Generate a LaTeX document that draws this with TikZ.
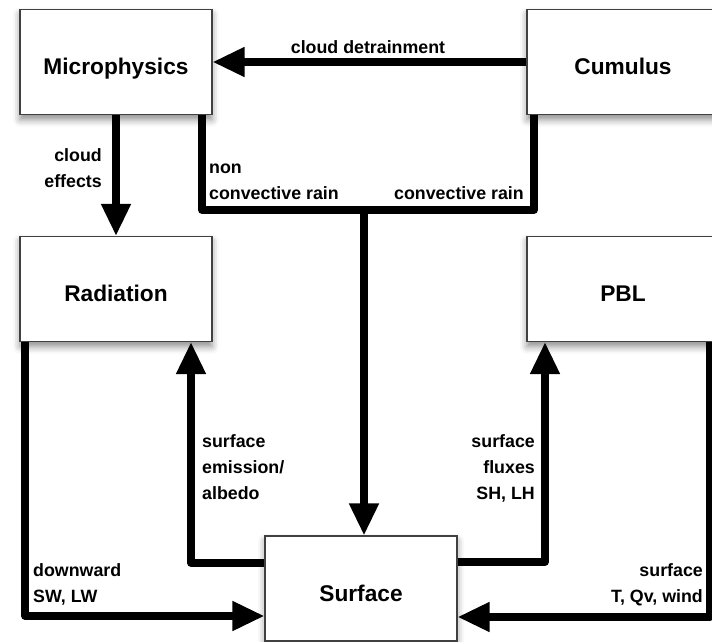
\documentclass[tikz,border=0pt]{standalone}
\usepackage{fontspec}
\setmainfont{Liberation Sans}
\usetikzlibrary{arrows.meta,shadows.blur}
\begin{document}
\begin{tikzpicture}[x=1pt,y=-1pt,
  module/.style={draw=black!75, line width=1.1pt, fill=white,
    minimum width=192pt, minimum height=105pt,
    text height=25pt, text depth=0pt,
    font=\fontsize{22.7}{27}\selectfont\bfseries,
    blur shadow={shadow xshift=0pt, shadow yshift=-5pt,
      shadow blur radius=7pt, shadow opacity=45}},
  flow/.style={line width=7.5pt, line join=round, draw=black},
  tip/.style={-{Triangle[length=32pt,width=28pt]}},
  lbl/.style={font=\fontsize{17.8}{26}\selectfont\bfseries, inner sep=0pt},
]
\useasboundingbox (0,0) rectangle (712,642);

% physics modules
\node[module] (mp)  at (116,62)    {Microphysics};
\node[module] (cu)  at (623,62)    {Cumulus};
\node[module] (rad) at (116,289)   {Radiation};
\node[module] (pbl) at (623,289)   {PBL};
\node[module] (sf)  at (361,588.5) {Surface};

% bend points of the connectors
\coordinate (nl) at (202,210);
\coordinate (cr) at (534,210);
\coordinate (j)  at (364,210);
\coordinate (se) at (191,563);
\coordinate (dw) at (25,616);
\coordinate (fx) at (545,562);
\coordinate (tq) at (710,617);

% connectors
\draw[flow,tip] (cu.west) -- (mp.east);
\draw[flow,tip] (mp.south) -- (rad.north);
\draw[flow] (mp.south -| nl) -- (nl) -- (j);
\draw[flow] (cu.south -| cr) -- (cr) -- (j);
\draw[flow,tip] (j) -- (j |- sf.north);
\draw[flow,tip] (sf.west |- se) -- (se) -- (se |- rad.south);
\draw[flow,tip] (rad.south -| dw) -- (dw) -- (sf.west |- dw);
\draw[flow,tip] (sf.east |- fx) -- (fx) -- (fx |- pbl.south);
\draw[flow,tip] (pbl.south -| tq) -- (tq) -- (sf.east |- tq);

% connector labels (base = baseline of the last line)
\node[lbl, anchor=base] (lcd) at (368,53) {cloud detrainment};
\node[lbl, align=right, anchor=base east] (lce) at (102,187) {cloud\\effects};
\node[lbl, align=left, anchor=base west] (lnc) at (209,199) {non\\convective rain};
\node[lbl, anchor=base east] (lcr) at (524,199) {convective rain};
\node[lbl, align=left, anchor=base west] (lse) at (202,499) {surface\\emission/\\albedo};
\node[lbl, align=left, anchor=base west] (ldw) at (33,602) {downward\\SW, LW};
\node[lbl, align=right, anchor=base east] (lfx) at (535,499) {surface\\fluxes\\SH, LH};
\node[lbl, align=right, anchor=base east] (ltq) at (703,602) {surface\\T, Qv, wind};
\end{tikzpicture}
\end{document}
